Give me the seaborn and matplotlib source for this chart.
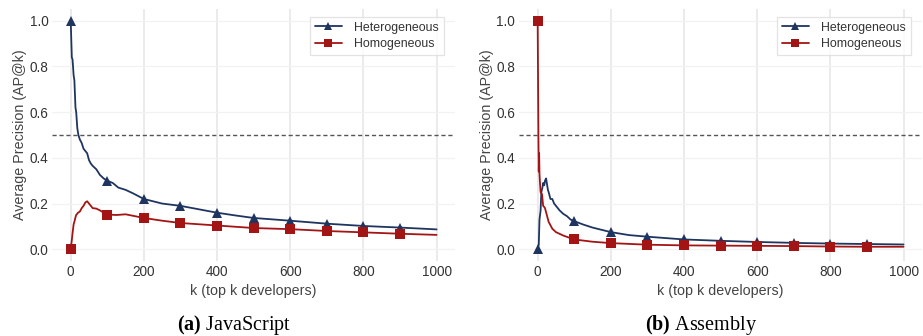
import matplotlib
matplotlib.use('Agg')
import matplotlib.pyplot as plt
from matplotlib.lines import Line2D
import numpy as np
import pandas as pd
import seaborn as sns

# JavaScript panel
js_het_k = [0, 3, 5, 8, 10, 13, 15, 18, 21, 25, 30, 35, 40, 45, 50, 55, 60, 70, 80, 90, 100,
            115, 130, 150, 170, 200, 250, 300, 350, 400, 450, 500, 600, 700, 800, 900, 1000]
js_het = [1.0, 0.84, 0.83, 0.76, 0.74, 0.62, 0.60, 0.53, 0.50, 0.48, 0.465, 0.44, 0.43, 0.42, 0.39,
          0.375, 0.365, 0.35, 0.325, 0.31, 0.30, 0.29, 0.27, 0.26, 0.245, 0.22, 0.20, 0.19, 0.175,
          0.16, 0.148, 0.137, 0.125, 0.112, 0.102, 0.095, 0.087]
js_hom_k = [0, 3, 5, 8, 10, 13, 15, 20, 25, 30, 35, 40, 45, 50, 55, 60, 70, 80, 90, 100,
            125, 150, 175, 200, 250, 300, 400, 500, 600, 700, 800, 900, 1000]
js_hom = [0.0, 0.04, 0.07, 0.11, 0.12, 0.14, 0.15, 0.16, 0.165, 0.18, 0.19, 0.205, 0.21, 0.20,
          0.19, 0.18, 0.178, 0.17, 0.16, 0.152, 0.15, 0.153, 0.145, 0.137, 0.125, 0.115, 0.104,
          0.093, 0.088, 0.08, 0.074, 0.068, 0.063]

# Assembly panel
asm_het_k = [0, 3, 5, 8, 10, 13, 15, 18, 20, 23, 25, 28, 30, 35, 40, 45, 50, 60, 70, 80, 90, 100,
             125, 150, 200, 250, 300, 400, 500, 600, 700, 800, 900, 1000]
asm_het = [0.0, 0.02, 0.13, 0.17, 0.25, 0.27, 0.29, 0.28, 0.30, 0.31, 0.29, 0.26, 0.25, 0.22, 0.22,
           0.20, 0.19, 0.17, 0.155, 0.145, 0.13, 0.123, 0.108, 0.095, 0.075, 0.062, 0.055, 0.043,
           0.037, 0.032, 0.028, 0.025, 0.023, 0.021]
asm_hom_k = [0, 1, 2, 3, 4, 5, 6, 8, 10, 12, 15, 18, 20, 25, 30, 40, 50, 70, 100, 150, 200, 300,
             400, 500, 600, 700, 800, 900, 1000]
asm_hom = [1.0, 0.75, 0.5, 0.34, 0.42, 0.33, 0.30, 0.25, 0.245, 0.24, 0.19, 0.185, 0.18, 0.15,
           0.12, 0.09, 0.075, 0.06, 0.043, 0.033, 0.027, 0.02, 0.017, 0.016, 0.015, 0.014, 0.012,
           0.011, 0.011]

panels = [
    ('JavaScript', 'a', js_het_k, js_het, js_hom_k, js_hom),
    ('Assembly', 'b', asm_het_k, asm_het, asm_hom_k, asm_hom),
]

HET_COLOR = '#1f3560'
HOM_COLOR = '#a31515'

sns.set_theme(style='white')
plt.rcParams['font.family'] = ['Liberation Sans', 'DejaVu Sans']
plt.rcParams['mathtext.fontset'] = 'custom'
plt.rcParams['mathtext.rm'] = 'Liberation Serif'
plt.rcParams['mathtext.bf'] = 'Liberation Serif:bold'

fig = plt.figure(figsize=(9.23, 3.36), dpi=100)
lefts = [0.0568, 0.5627]


def marks(ks):
    return [i for i, k in enumerate(ks) if k % 100 == 0 and k < 1000]


for (name, tag, hk, hv, mk, mv), left in zip(panels, lefts):
    ax = fig.add_axes([left, 0.2241, 0.436, 0.7482])
    het = pd.DataFrame({'k': hk, 'ap': hv})
    hom = pd.DataFrame({'k': mk, 'ap': mv})
    ax.axhline(0.5, color='#555555', linestyle=(0, (3, 2)), linewidth=1.0, zorder=1)
    sns.lineplot(data=het, x='k', y='ap', ax=ax, color=HET_COLOR, linewidth=1.3,
                 marker='^', markersize=7, markeredgewidth=0, markevery=marks(hk),
                 estimator=None, sort=False, zorder=3)
    sns.lineplot(data=hom, x='k', y='ap', ax=ax, color=HOM_COLOR, linewidth=1.3,
                 marker='s', markersize=6.5, markeredgewidth=0, markevery=marks(mk),
                 estimator=None, sort=False, zorder=3)
    ax.set_xlim(-50, 1050)
    ax.set_ylim(-0.05, 1.05)
    ax.set_xticks(np.arange(0, 1001, 200))
    ax.set_yticks(np.arange(0, 1.01, 0.2))
    ax.set_yticklabels([f'{v:.1f}' for v in np.arange(0, 1.01, 0.2)])
    ax.grid(axis='x', color='#e9e9e9', linewidth=1.3)
    ax.grid(axis='y', color='#f2f2f2', linewidth=0.9)
    ax.set_axisbelow(True)
    for s in ax.spines.values():
        s.set_visible(False)
    ax.tick_params(length=0, labelsize=9.8, labelcolor='#333333', pad=3)
    ax.set_xlabel('k (top k developers)', fontsize=10.3, color='#444444', labelpad=4)
    ax.set_ylabel('Average Precision (AP@k)', fontsize=10.3, color='#444444', labelpad=2)

    handles = [
        Line2D([], [], color=HET_COLOR, marker='^', markersize=6, markeredgewidth=0, linewidth=1.3),
        Line2D([], [], color=HOM_COLOR, marker='s', markersize=5.5, markeredgewidth=0, linewidth=1.3),
    ]
    leg = ax.legend(handles, ['Heterogeneous', 'Homogeneous'], loc='upper right',
                    bbox_to_anchor=(0.988, 0.995), fontsize=8.9, frameon=True, fancybox=False,
                    handlelength=2.2, borderpad=0.4, labelspacing=0.35, handletextpad=1.0)
    leg.get_frame().set_edgecolor('#dddddd')
    leg.get_frame().set_linewidth(0.9)
    for t in leg.get_texts():
        t.set_color('#333333')

    fig.text(left + 0.197, 0.032, f'$\\mathbf{{({tag})}}$ {name}', ha='center', va='center',
             fontsize=14.5, family=['Liberation Serif', 'DejaVu Serif'], color='black')

fig.savefig('out.png', dpi=100)
